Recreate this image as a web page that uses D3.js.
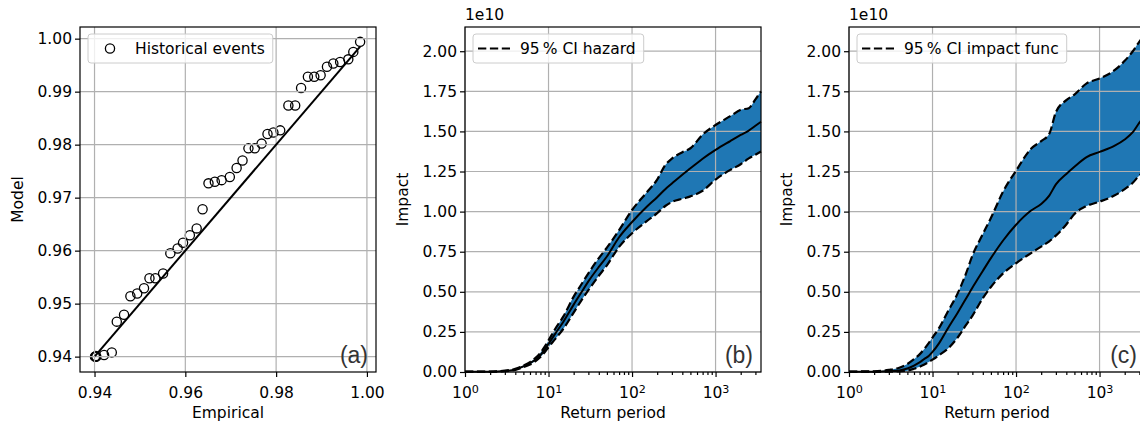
<!DOCTYPE html>
<html>
<head>
<meta charset="utf-8">
<script src="https://cdn.jsdelivr.net/npm/d3@7"></script>
<style>
	body { margin: 0; background: #fff; }
	svg { display: block; font-family: "DejaVu Sans", sans-serif; }
</style>
</head>
<body>
<svg id="chart" width="1140" height="432"></svg>
<script>
// (a) quantile comparison
var empirical = [0.9401, 0.9402, 0.9403, 0.9404, 0.9421, 0.9438, 0.9449, 0.9465, 0.9479, 0.9494,
	0.9509, 0.9521, 0.9534, 0.9551, 0.9567, 0.9583, 0.9595, 0.9610, 0.9625, 0.9638,
	0.9651, 0.9665, 0.9680, 0.9698, 0.9713, 0.9726, 0.9739, 0.9753, 0.9768, 0.9781,
	0.9794, 0.9809, 0.9827, 0.9842, 0.9855, 0.9870, 0.9884, 0.9898, 0.9912, 0.9926,
	0.9941, 0.9959, 0.9970, 0.9985];
var model = [0.9400, 0.9400, 0.9401, 0.9400, 0.9403, 0.9408, 0.9466, 0.9479, 0.9514, 0.9519,
	0.9529, 0.9548, 0.9548, 0.9557, 0.9595, 0.9604, 0.9615, 0.9629, 0.9642, 0.9678,
	0.9727, 0.9730, 0.9733, 0.9739, 0.9756, 0.9770, 0.9793, 0.9793, 0.9802, 0.9820,
	0.9823, 0.9827, 0.9874, 0.9874, 0.9907, 0.9928, 0.9928, 0.9931, 0.9947, 0.9953,
	0.9956, 0.9961, 0.9975, 0.9994];
var empiricalTicks = [0.94, 0.96, 0.98, 1.00];
var modelTicks = [0.94, 0.95, 0.96, 0.97, 0.98, 0.99, 1.00];

// (b) and (c) impact vs return period, impact in units of 1e10
var returnPeriods = [1, 2, 3, 4, 5, 6, 7, 8, 9, 10, 12, 15, 20, 25, 30, 40, 50, 70, 100, 150,
	200, 250, 300, 400, 500, 700, 1000, 1500, 2000, 2500, 3000, 3500];
var hazardMean = [0.002, 0.002, 0.006, 0.016, 0.035, 0.055, 0.078, 0.105, 0.14, 0.175, 0.238, 0.312, 0.42, 0.5, 0.565, 0.655,
	0.72, 0.84, 0.935, 1.03, 1.09, 1.14, 1.175, 1.23, 1.27, 1.33, 1.385, 1.44, 1.478, 1.505, 1.535, 1.56];
var hazardLow = [0.001, 0.001, 0.005, 0.013, 0.03, 0.047, 0.068, 0.093, 0.123, 0.155, 0.205, 0.268, 0.37, 0.45, 0.51, 0.6,
	0.665, 0.78, 0.865, 0.94, 0.99, 1.035, 1.06, 1.08, 1.095, 1.13, 1.2, 1.26, 1.295, 1.332, 1.355, 1.375];
var hazardHigh = [0.003, 0.003, 0.008, 0.02, 0.04, 0.062, 0.088, 0.12, 0.158, 0.197, 0.268, 0.345, 0.47, 0.55, 0.615, 0.71,
	0.775, 0.885, 1.01, 1.12, 1.2, 1.29, 1.33, 1.37, 1.395, 1.48, 1.54, 1.595, 1.635, 1.645, 1.7, 1.75];
var funcMean = [0.002, 0.002, 0.005, 0.01, 0.022, 0.04, 0.06, 0.082, 0.1, 0.125, 0.18, 0.265, 0.37, 0.455, 0.525, 0.63,
	0.71, 0.82, 0.918, 1.005, 1.048, 1.1, 1.17, 1.235, 1.28, 1.34, 1.372, 1.41, 1.45, 1.495, 1.555, 1.6];
var funcLow = [0.001, 0.001, 0.002, 0.004, 0.008, 0.02, 0.033, 0.047, 0.062, 0.077, 0.105, 0.142, 0.215, 0.29, 0.35, 0.46,
	0.53, 0.615, 0.678, 0.74, 0.782, 0.815, 0.85, 0.92, 0.985, 1.035, 1.062, 1.1, 1.14, 1.18, 1.225, 1.25];
var funcHigh = [0.003, 0.004, 0.013, 0.027, 0.05, 0.08, 0.11, 0.145, 0.18, 0.215, 0.275, 0.37, 0.49, 0.61, 0.725, 0.86,
	0.96, 1.125, 1.255, 1.39, 1.44, 1.485, 1.62, 1.695, 1.73, 1.8, 1.83, 1.88, 1.94, 2.0, 2.06, 2.1];
var impactTicks = [0, 0.25, 0.5, 0.75, 1.0, 1.25, 1.5, 1.75, 2.0];
var periodTicks = [1, 10, 100, 1000];

var svg = d3.select('#chart');
var TOP = 27, BOTTOM = 372, W = 296, FS = 15.5;
var BLUE = '#1f77b4', GRID = '#b0b0b0';

function drawGrid(g, x, y, xt, yt) {
	g.selectAll('.gx').data(xt).enter().append('line')
		.attr('x1', x).attr('x2', x).attr('y1', TOP).attr('y2', BOTTOM)
		.attr('stroke', GRID).attr('stroke-width', 1.2);
	g.selectAll('.gy').data(yt).enter().append('line')
		.attr('y1', y).attr('y2', y).attr('x1', x.range()[0]).attr('x2', x.range()[1])
		.attr('stroke', GRID).attr('stroke-width', 1.2);
}

function styleAxis(a) {
	a.select('.domain').remove();
	a.selectAll('.tick line').attr('stroke', '#000').attr('stroke-width', 1.2);
	a.selectAll('.tick text').attr('font-size', FS).attr('fill', '#000')
		.attr('font-family', '"DejaVu Sans", sans-serif');
}

function drawFrame(g, left, xAxis, yAxis, xlabel, ylabel, tag) {
	g.append('rect').attr('x', left).attr('y', TOP).attr('width', W).attr('height', BOTTOM - TOP)
		.attr('fill', 'none').attr('stroke', '#000').attr('stroke-width', 1.2);
	var ax = g.append('g').attr('transform', 'translate(0,' + BOTTOM + ')').call(xAxis);
	styleAxis(ax);
	var ay = g.append('g').attr('transform', 'translate(' + left + ',0)').call(yAxis);
	styleAxis(ay);
	g.append('text').attr('x', left + W / 2).attr('y', 418).attr('text-anchor', 'middle')
		.attr('font-size', FS).text(xlabel);
	g.append('text').attr('transform', 'translate(' + (left - 57) + ',' + ((TOP + BOTTOM) / 2) + ') rotate(-90)')
		.attr('text-anchor', 'middle').attr('font-size', FS).text(ylabel);
	g.append('text').attr('x', left + W - 8).attr('y', 363).attr('text-anchor', 'end')
		.attr('font-family', '"Liberation Sans", Arial, sans-serif').attr('font-size', 23)
		.attr('fill', '#333').text(tag);
	return ax;
}

function drawLegend(g, left, label, handle) {
	var lg = g.append('g');
	var box = lg.append('rect').attr('x', left + 8).attr('y', 34).attr('height', 29).attr('rx', 3)
		.attr('fill', '#fff').attr('fill-opacity', 0.8).attr('stroke', '#ccc').attr('stroke-width', 1);
	handle(lg, left + 13, 48.5);
	var t = lg.append('text').attr('x', left + 55).attr('y', 54).attr('font-size', FS).text(label);
	box.attr('width', 47 + t.node().getComputedTextLength() + 8);
}

// panel (a)
(function(){
	var left = 80;
	var g = svg.append('g');
	var x = d3.scaleLinear().domain([0.9368, 1.0020]).range([left, left + W]);
	var y = d3.scaleLinear().domain([0.9371, 1.0022]).range([BOTTOM, TOP]);
	var pts = empirical.map(function(d, i){ return [d, model[i]]; });

	g.selectAll('.pt').data(pts).enter().append('circle')
		.attr('cx', function(d){ return x(d[0]); })
		.attr('cy', function(d){ return y(d[1]); })
		.attr('r', 4.6).attr('fill', 'none').attr('stroke', '#000').attr('stroke-width', 1.3);
	drawGrid(g, x, y, empiricalTicks, modelTicks);

	var ext = d3.extent(empirical);
	g.append('line').attr('x1', x(ext[0])).attr('y1', y(ext[0])).attr('x2', x(ext[1])).attr('y2', y(ext[1]))
		.attr('stroke', '#000').attr('stroke-width', 2);

	drawFrame(g, left,
		d3.axisBottom(x).tickValues(empiricalTicks).tickFormat(d3.format('.2f')).tickSize(5).tickPadding(10),
		d3.axisLeft(y).tickValues(modelTicks).tickFormat(d3.format('.2f')).tickSize(5).tickPadding(3),
		'Empirical', 'Model', '(a)');

	drawLegend(g, left, 'Historical events', function(lg, hx, hy){
		lg.append('circle').attr('cx', hx + 17).attr('cy', hy).attr('r', 4.6)
			.attr('fill', 'none').attr('stroke', '#000').attr('stroke-width', 1.3);
	});
})();

function curvePanel(left, mean, low, high, label, tag) {
	var g = svg.append('g');
	var x = d3.scaleLog().domain([1, 3500]).range([left, left + W]);
	var y = d3.scaleLinear().domain([0, 2.151]).range([BOTTOM, TOP]);
	var rows = returnPeriods.map(function(p, i){ return {p: p, m: mean[i], lo: low[i], hi: high[i]}; });

	g.append('path').datum(rows)
		.attr('fill', BLUE)
		.attr('d', d3.area().curve(d3.curveMonotoneX)
			.x(function(d){ return x(d.p); })
			.y0(function(d){ return y(d.lo); })
			.y1(function(d){ return y(d.hi); }));
	drawGrid(g, x, y, periodTicks, impactTicks);

	['lo', 'hi'].forEach(function(k){
		g.append('path').datum(rows)
			.attr('fill', 'none').attr('stroke', '#000').attr('stroke-width', 2.2)
			.attr('stroke-dasharray', '8.3,3.6')
			.attr('d', d3.line().curve(d3.curveMonotoneX)
				.x(function(d){ return x(d.p); })
				.y(function(d){ return y(d[k]); }));
	});
	g.append('path').datum(rows)
		.attr('fill', 'none').attr('stroke', '#000').attr('stroke-width', 2)
		.attr('d', d3.line().curve(d3.curveMonotoneX)
			.x(function(d){ return x(d.p); })
			.y(function(d){ return y(d.m); }));

	var minor = [];
	[1, 10, 100, 1000].forEach(function(dec){
		for (var k = 2; k <= 9; k++) if (dec * k <= 3500) minor.push(dec * k);
	});
	var mx = g.append('g').attr('transform', 'translate(0,' + BOTTOM + ')')
		.call(d3.axisBottom(x).tickValues(minor).tickSize(3).tickFormat(''));
	styleAxis(mx);

	var ax = drawFrame(g, left,
		d3.axisBottom(x).tickValues(periodTicks).tickFormat(function(){ return ''; }).tickSize(5).tickPadding(10),
		d3.axisLeft(y).tickValues(impactTicks).tickFormat(d3.format('.2f')).tickSize(5).tickPadding(3),
		'Return period', 'Impact', tag);
	ax.selectAll('.tick text').each(function(d){
		var t = d3.select(this);
		t.text('10');
		t.append('tspan').attr('dy', '-0.42em').attr('font-size', '0.72em').text(Math.round(Math.log10(d)));
	});

	g.append('text').attr('x', left).attr('y', 20).attr('font-size', FS).text('1e10');

	drawLegend(g, left, label, function(lg, hx, hy){
		lg.append('line').attr('x1', hx).attr('x2', hx + 32).attr('y1', hy).attr('y2', hy)
			.attr('stroke', '#000').attr('stroke-width', 2.2).attr('stroke-dasharray', '8.3,3.6');
	});
}

curvePanel(465, hazardMean, hazardLow, hazardHigh, '95\u2009% CI hazard', '(b)');
curvePanel(849, funcMean, funcLow, funcHigh, '95\u2009% CI impact func', '(c)');
</script>
</body>
</html>
